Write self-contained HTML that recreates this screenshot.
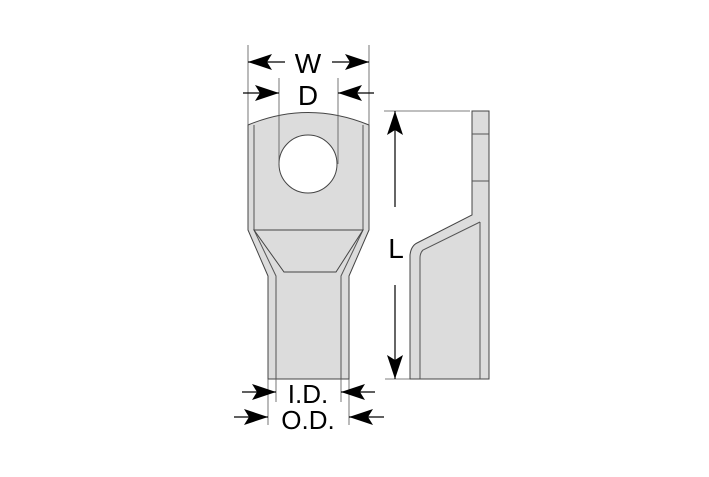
<!DOCTYPE html>
<html><head><style>html,body{margin:0;padding:0;background:#fff}</style></head>
<body>
<svg width="709" height="472" viewBox="0 0 709 472" xmlns="http://www.w3.org/2000/svg" font-family="Liberation Sans, sans-serif">
<defs>
<marker id="a" viewBox="0 0 24 16" refX="24" refY="8" markerWidth="24" markerHeight="16" markerUnits="userSpaceOnUse" orient="auto">
<path d="M0,0 L24,8 L0,16 L5,8 Z" fill="#000"/></marker>
</defs>
<g stroke="#444" stroke-width="1" fill="#dcdcdc">
<path d="M248,125 Q308,100 369,125 L369,230 L349,276 L349,379 L268,379 L268,276 L248,230 Z"/>
<path d="M254,125 L254,230 L276,276 L276,379 M363,125 L363,230 L341,276 L341,379" fill="none" stroke="#555"/>
<path d="M254,230 L363,230 L336,272 L284,272 Z" fill="#dcdcdc"/>
<circle cx="308" cy="164" r="29" fill="#fff"/>
<path d="M472,111 L489,111 L489,379 L410,379 L410,255 Q411,246 417,243 L472,215 Z"/>
<path d="M472,134 L489,134 M472,181 L489,181 M480,222 L480,379 M480,222 L423,250 Q420,253 420,258 L420,379" fill="none" stroke="#555"/>
</g>
<g stroke="#555" stroke-width="0.8" fill="none">
<path d="M248,45 V125 M369,45 V125 M279,78 V164 M338,78 V164"/>
<path d="M384,111 H470 M385,379 H410"/>
<path d="M276,379 V402 M341,379 V402 M268,379 V425 M349,379 V425"/>
</g>
<g stroke="#000" stroke-width="1.2" fill="none">
<line x1="285" y1="62" x2="248" y2="62" marker-end="url(#a)"/>
<line x1="332" y1="62" x2="369" y2="62" marker-end="url(#a)"/>
<line x1="243" y1="93" x2="279" y2="93" marker-end="url(#a)"/>
<line x1="374" y1="93" x2="338" y2="93" marker-end="url(#a)"/>
<line x1="395" y1="207" x2="395" y2="111" marker-end="url(#a)"/>
<line x1="395" y1="285" x2="395" y2="379" marker-end="url(#a)"/>
<line x1="242" y1="392" x2="276" y2="392" marker-end="url(#a)"/>
<line x1="375" y1="392" x2="341" y2="392" marker-end="url(#a)"/>
<line x1="234" y1="417" x2="268" y2="417" marker-end="url(#a)"/>
<line x1="384" y1="417" x2="349" y2="417" marker-end="url(#a)"/>
</g>
<g fill="#000" font-size="28" text-anchor="middle">
<text x="308" y="73">W</text>
<text x="308" y="105">D</text>
<text x="396" y="258">L</text>
<text x="308" y="403" font-size="26">I.D.</text>
<text x="308" y="429" font-size="26">O.D.</text>
</g>
</svg>
</body></html>
